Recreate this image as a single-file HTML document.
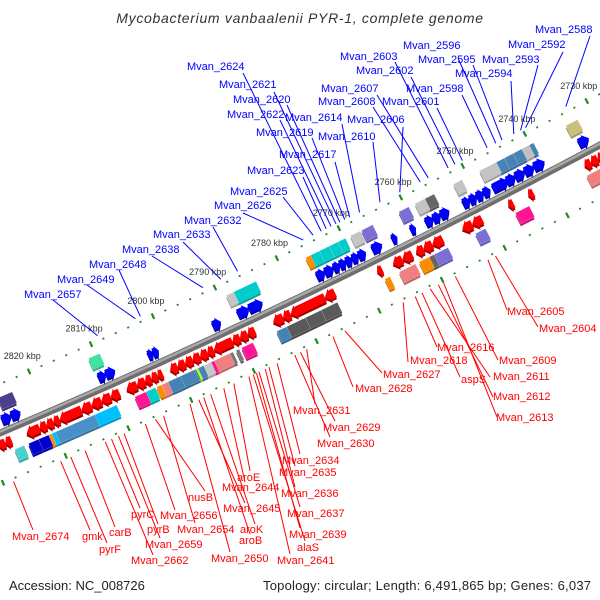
<!DOCTYPE html>
<html><head><meta charset="utf-8"><style>
html,body{margin:0;padding:0;background:#fff;}
svg{display:block;font-family:"Liberation Sans",sans-serif;}
</style></head><body>
<svg id="map" width="600" height="600" viewBox="0 0 600 600" xmlns="http://www.w3.org/2000/svg">
<text x="300" y="23" text-anchor="middle" font-size="14" font-style="italic" fill="#333" letter-spacing="0.7">Mycobacterium vanbaalenii PYR-1, complete genome</text>
<g id="ticks"></g><g id="backbone"></g><g id="genes"></g><g id="lines"></g><g id="labels"></g>
<text x="9" y="590" font-size="13" fill="#222">Accession: NC_008726</text>
<text x="263" y="590" font-size="13" fill="#222" textLength="328" lengthAdjust="spacing">Topology: circular; Length: 6,491,865 bp; Genes: 6,037</text>
</svg>
<script>
// ---- data (kbp) ----
const tickKbp = [2720,2730,2740,2750,2760,2770,2780,2790,2800,2810,2820,2830];
const fwdFrom = [2733.8,2745.4,2744.0,2742.5,2741.0,2747.6,2752.4,2751.3,2750.2,2749.1,2758.4,2757.2,2756.0,2760.8,2763.8,2767.0,2775.9,2774.6,2773.2,2772.2,2771.2,2770.2,2769.2,2788.6,2786.8,2792.6,2803.0,2802.2,2811.0,2809.8,2826.5,2825.0];
const fwdTo   = [2732.2,2744.0,2742.5,2741.0,2739.3,2745.2,2751.3,2750.2,2749.1,2748.0,2757.2,2756.0,2754.6,2760.0,2763.0,2765.4,2774.6,2773.2,2772.2,2771.2,2770.2,2769.2,2768.0,2786.8,2784.6,2791.3,2802.2,2801.3,2809.8,2808.3,2825.0,2823.5];
const revFrom = [2731.5,2732.5,2733.6,2742.8,2746.0,2751.0,2752.6,2757.3,2759.0,2760.4,2762.2,2763.8,2767.0,2774.6,2776.2,2781.7,2782.9,2787.4,2788.6,2789.8,2791.0,2794.0,2795.0,2796.2,2797.4,2798.6,2799.8,2802.2,2803.0,2804.0,2805.0,2806.3,2809.1,2810.5,2812.0,2813.6,2815.2,2818.7,2819.7,2820.8,2821.9,2826.4,2827.4];
const revTo   = [2732.5,2733.6,2734.6,2743.6,2746.8,2752.6,2754.2,2759.0,2760.4,2761.6,2763.8,2765.3,2767.8,2776.2,2781.7,2782.9,2784.5,2788.6,2789.8,2791.0,2794.0,2795.0,2796.2,2797.4,2798.6,2799.8,2801.0,2803.0,2804.0,2805.0,2806.3,2808.0,2810.5,2812.0,2813.6,2815.2,2818.7,2819.7,2820.8,2821.9,2824.0,2827.4,2828.5];
const outBoxFrom = [2732.4,2739.5,2740.2,2741.4,2742.8,2744.2,2745.5,2751.0,2755.5,2757.0,2759.6,2765.4,2767.4,2769.8,2771.0,2772.4,2774.0,2775.4,2784.2,2787.8,2809.4,2823.5];
const outBoxTo   = [2734.3,2740.2,2741.4,2742.8,2744.2,2745.6,2748.2,2752.4,2757.0,2758.6,2761.2,2767.2,2769.0,2771.0,2772.4,2774.0,2775.5,2776.2,2787.8,2789.0,2811.2,2825.8];
const outBoxColor= ["#c9c07e","#4682b4","#c0c0c0","#4682b4","#4682b4","#4682b4","#c4c4c4","#c4c4c4","#666666","#c4c4c4","#7b6fd6","#7b6fd6","#c4c4c4","#00cccc","#00cccc","#00cccc","#00cccc","#ff8c00","#00cccc","#c4c4c4","#3ee3a2","#4b3f8f"];
const inBoxFrom = [2732.0,2744.2,2751.2,2757.2,2759.4,2760.2,2762.4,2766.5,2774.9,2777.5,2780.0,2783.0,2788.4,2790.6,2791.6,2792.1,2794.6,2795.1,2796.3,2797.2,2797.5,2797.7,2800.0,2802.0,2803.0,2804.0,2805.5,2810.2,2813.7,2820.0,2820.6,2821.1,2822.7,2825.0];
const inBoxTo   = [2735.0,2746.4,2752.8,2759.4,2760.2,2761.8,2765.0,2767.3,2777.5,2780.0,2783.0,2784.6,2790.2,2791.1,2792.1,2794.6,2795.1,2796.3,2797.2,2797.5,2797.7,2801.4,2802.0,2803.0,2803.8,2805.5,2807.3,2813.9,2820.2,2820.6,2821.1,2822.7,2824.3,2826.5];
const inBoxColor= ["#f08080","#ff1493","#7b6fd6","#7b6fd6","#666666","#ff8c00","#f08080","#ff8c00","#5a5a5a","#5a5a5a","#5a5a5a","#4682b4","#ff1493","#777777","#777777","#f08080","#ff1493","#c8c8c8","#4682b4","#adff2f","#228b22","#4682b4","#4682b4","#f08080","#ff8c00","#00cec8","#ff1493","#00bfff","#4a90c8","#00bfff","#ff8c00","#0000cd","#0000cd","#48d1cc"];
const topNames = ["Mvan_2588","Mvan_2592","Mvan_2593","Mvan_2594","Mvan_2595","Mvan_2596","Mvan_2598","Mvan_2601","Mvan_2602","Mvan_2603","Mvan_2607","Mvan_2608","Mvan_2606","Mvan_2610","Mvan_2614","Mvan_2617","Mvan_2619","Mvan_2620","Mvan_2621","Mvan_2622","Mvan_2623","Mvan_2624","Mvan_2625","Mvan_2626","Mvan_2632","Mvan_2633","Mvan_2638","Mvan_2648","Mvan_2649","Mvan_2657"];
const topKbp = [2733.0,2739.5,2740.3,2741.4,2743.3,2744.3,2745.7,2749.7,2750.9,2752.0,2755.2,2756.5,2759.8,2763.0,2766.3,2767.9,2768.7,2769.5,2770.1,2770.9,2771.7,2772.5,2773.8,2775.4,2786.0,2788.7,2791.6,2801.7,2802.5,2808.6];
const botNames = ["Mvan_2674","gmk","pyrF","carB","Mvan_2662","pyrC","Mvan_2659","pyrB","Mvan_2656","nusB","Mvan_2654","Mvan_2650","Mvan_2645","aroB","aroK","Mvan_2644","aroE","Mvan_2641","alaS","Mvan_2639","Mvan_2637","Mvan_2636","Mvan_2635","Mvan_2634","Mvan_2630","Mvan_2629","Mvan_2631","Mvan_2628","Mvan_2627","Mvan_2618","Mvan_2616","aspS","Mvan_2611","Mvan_2612","Mvan_2613","Mvan_2609","Mvan_2605","Mvan_2604"];
const botKbp = [2828.5,2821.0,2819.4,2817.1,2813.9,2812.9,2811.8,2810.9,2807.5,2805.9,2804.6,2800.4,2799.0,2798.2,2797.1,2795.0,2793.4,2791.0,2790.3,2789.8,2789.4,2788.4,2787.8,2786.5,2783.7,2782.8,2781.8,2777.6,2775.7,2766.4,2764.5,2763.4,2762.1,2760.8,2760.0,2758.1,2752.9,2751.7];
// ---- layout (label text positions [x, centerY, lineStartX, lineStartY]) ----
const topLayout = [[535,29,590,36],[508,44,563,52],[482,59,538,65],[455,73,511,81],[418,59,473,65],[403,45,458,58],[406,88,462,95],[382,101,437,108],[356,70,411,77],[340,56,395,62],[321,88,377,95],[318,101,373,107],[347,119,403,127],[318,136,373,142],[285,117,342,124],[279,154,335,162],[256,132,312,138],[233,99,287,105],[219,84,274,92],[227,114,280,120],[247,170,303,177],[187,66,243,73],[230,191,283,197],[214,205,243,213],[184,220,213,227],[153,234,183,242],[122,249,152,256],[89,264,119,270],[57,279,87,285],[24,294,53,300]];
const botLayout = [[12,536,33,530],[82,536,90,530],[99,549,107,543],[109,532,115,527],[131,560,153,555],[131,514,140,508],[145,544,160,538],[147,529,158,524],[160,515,175,510],[188,497,205,491],[177,529,195,523],[211,558,230,552],[223,508,245,503],[239,540,250,534],[240,529,255,524],[222,487,245,482],[237,477,250,471],[277,560,290,554],[297,547,305,541],[289,534,300,528],[287,513,300,507],[281,493,295,487],[279,472,295,466],[282,460,300,454],[317,443,330,437],[323,427,335,421],[293,410,315,404],[355,388,353,387],[383,374,382,373],[410,360,408,362],[437,347,437,347],[461,379,460,377],[493,376,490,377],[493,396,493,397],[496,417,497,417],[499,360,498,360],[507,311,507,310],[539,328,538,327]];

const NS = "http://www.w3.org/2000/svg";
function P(s){const a=(1-s)*(1-s),b=2*s*(1-s),c=s*s;return [a*0+b*300+c*600, a*433+b*305+c*145];}
function pos(k,off){const xb=47+(2820-k)*6.233;const s=xb/600;const p=P(s);const tx=600,ty=-256-64*s;const L=Math.hypot(tx,ty);return [p[0]+off*ty/L, p[1]-off*tx/L];}
function el(tag,attrs,parent){const e=document.createElementNS(NS,tag);for(const k in attrs)e.setAttribute(k,attrs[k]);parent.appendChild(e);return e;}
function pts(arr){return arr.map(p=>p[0].toFixed(1)+","+p[1].toFixed(1)).join(" ");}
function shade(hex,f){const n=parseInt(hex.slice(1),16);const r=Math.round(((n>>16)&255)*f),g=Math.round(((n>>8)&255)*f),b=Math.round((n&255)*f);return "rgb("+r+","+g+","+b+")";}
const gT=document.getElementById('ticks'),gB=document.getElementById('backbone'),gG=document.getElementById('genes'),gL=document.getElementById('lines'),gX=document.getElementById('labels');

for(let k=2712;k<=2836;k+=2){
  const major=(k%10===0);
  [45,-47].forEach(o=>{
    const a=pos(k,o+(major?3:0.9)),b=pos(k,o-(major?3:0.9));
    if(a[0]<-5||a[0]>605)return;
    const t=el('line',{x1:a[0],y1:a[1],x2:b[0],y2:b[1],stroke:'#1f8a1f','stroke-width':major?2.2:2},gT);
    
    
  });
}
tickKbp.forEach(k=>{
  const p=pos(k,62);
  if(p[0]<0||p[0]>600)return;
  const t=el('text',{x:p[0],y:p[1]+3,'text-anchor':'middle','font-size':9,fill:'#333'},gT);
  t.textContent=k+" kbp";
  
  
});

function curve(off){let d="";for(let i=-2;i<=62;i++){const s=i/60;const p=P(s);const tx=600,ty=-256-64*s,L=Math.hypot(tx,ty);const x=p[0]+off*ty/L,y=p[1]-off*tx/L;d+=(i===-2?"M":"L")+x.toFixed(1)+","+y.toFixed(1);}return d;}
const bb1=el('path',{d:curve(0),stroke:'#6e6e6e','stroke-width':7,fill:'none'},gB);


const bb2=el('path',{d:curve(1.3),stroke:'#a8a8a8','stroke-width':2.5,fill:'none'},gB);



function arrow(hi,lo,inner,col){
  const len=hi-lo;const tip=Math.min(len*0.55,0.9);
  const sg=inner?-1:1;const b1=6.5*sg,b2=16*sg,h1=4.5*sg,h2=18*sg;
  let poly;
  if(!inner){const n=lo+tip;poly=[pos(hi,b1),pos(n,b1),pos(n,h1),pos(lo,(b1+b2)/2),pos(n,h2),pos(n,b2),pos(hi,b2)];}
  else{const n=hi-tip;poly=[pos(lo,b1),pos(n,b1),pos(n,h1),pos(hi,(b1+b2)/2),pos(n,h2),pos(n,b2),pos(lo,b2)];}
  const sh=poly.map(p=>[p[0],p[1]+2.2]);
  const s=el('polygon',{points:pts(sh),fill:shade(col,0.62)},gG);
  
  
  const m=el('polygon',{points:pts(poly),fill:col},gG);
  
  
}
function box(a,b,o1,o2,col,name){
  const poly=[pos(a,o1),pos(b,o1),pos(b,o2),pos(a,o2)];
  const s=el('polygon',{points:pts(poly.map(p=>[p[0],p[1]+2.5])),fill:shade(col,0.8)},gG);
  
  
  const m=el('polygon',{points:pts(poly),fill:col,stroke:'rgba(255,255,255,0.35)','stroke-width':0.5},gG);
  
  
}
fwdFrom.forEach((f,i)=>arrow(f,fwdTo[i],false,'#0000ff'));
revFrom.forEach((f,i)=>arrow(revTo[i],f,true,'#ff0000'));
outBoxFrom.forEach((f,i)=>box(f,outBoxTo[i],21,33,outBoxColor[i],'forward-cog-box'));
inBoxFrom.forEach((f,i)=>box(f,inBoxTo[i],-21,-33,inBoxColor[i],'reverse-cog-box'));

topNames.forEach((n,i)=>{
  const L=topLayout[i];const e=pos(topKbp[i],50);
  const ln=el('line',{x1:L[2],y1:L[3],x2:e[0],y2:e[1],stroke:'#0000ff','stroke-width':1},gL);
  
  
  const t=el('text',{x:L[0],y:L[1]+4,'font-size':11,fill:'#0000ff'},gX);
  t.textContent=n;
  
  
});
botNames.forEach((n,i)=>{
  const L=botLayout[i];const e=pos(botKbp[i],-50);
  const ln=el('line',{x1:L[2],y1:L[3],x2:e[0],y2:e[1],stroke:'#ff0000','stroke-width':1},gL);
  
  
  const t=el('text',{x:L[0],y:L[1]+4,'font-size':11,fill:'#ff0000'},gX);
  t.textContent=n;
  
  
});
</script>
</body></html>
